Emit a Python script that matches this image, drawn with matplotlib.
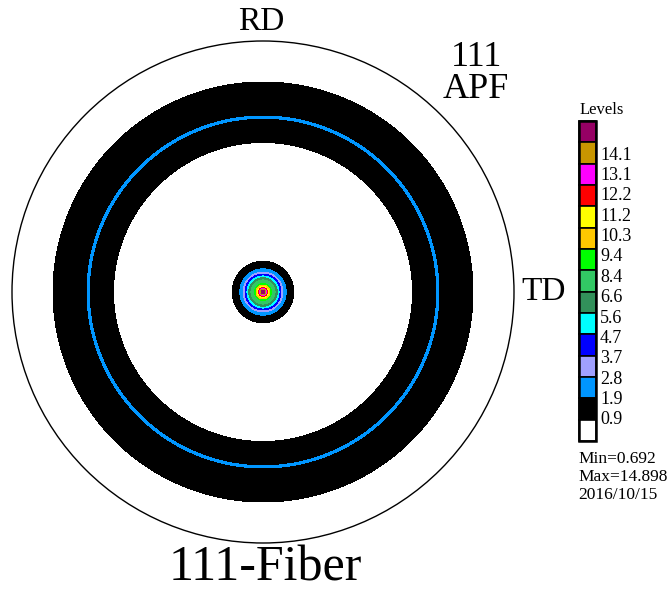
import numpy as np
import matplotlib
matplotlib.use("Agg")
import matplotlib.pyplot as plt
from matplotlib.patches import Circle, Rectangle

# radial intensity profile of the 111 pole figure (fiber texture, axially symmetric)
psi = [0, 0.5, 0.9, 1.1, 1.4, 1.8, 2.2, 2.7, 3.6, 4.7, 5.4, 6.1, 6.8, 7.5, 9.3,
       10.8, 11.5, 14.3, 50.2, 53.6, 57.4, 62.7, 68.1, 75.3, 78.9, 90]
intensity = [14.9, 14.5, 13.5, 12.7, 11.7, 10.8, 9.9, 8.9, 7.5, 6.1, 5.2, 4.2, 3.2,
             2.3, 1.4, 0.95, 0.8, 0.7, 0.75, 0.9, 1.4, 1.94, 1.4, 0.9, 0.8, 0.7]

levels = [0.9, 1.9, 2.8, 3.7, 4.7, 5.6, 6.6, 8.4, 9.4, 10.3, 11.2, 12.2, 13.1, 14.1]
level_labels = ["0.9", "1.9", "2.8", "3.7", "4.7", "5.6", "6.6", "8.4", "9.4",
                "10.3", "11.2", "12.2", "13.1", "14.1"]
colors = ["#ffffff", "#000000", "#0096ff", "#a0a0ff", "#0000ff", "#00ffff",
          "#32905a", "#32c864", "#00ff00", "#ffc800", "#ffff00", "#ff0000",
          "#ff00ff", "#c89600", "#960064"]
min_val = 0.692
max_val = 14.898

serif = "Liberation Serif"

fig = plt.figure(figsize=(6.72, 5.93), dpi=100)
ax = fig.add_axes([0, 0, 1, 1])
ax.set_xlim(0, 672)
ax.set_ylim(593, 0)
ax.axis("off")

# pole figure in pixel coordinates
cx, cy, R = 263, 292, 251
theta = np.linspace(0, 2 * np.pi, 721)
rr, tt = np.meshgrid(np.array(psi) / 90 * R, theta)
zz = np.tile(intensity, (len(theta), 1))
X = cx + rr * np.cos(tt)
Y = cy - rr * np.sin(tt)
ax.contourf(X, Y, zz, levels=[0] + levels + [100], colors=colors)
ax.add_patch(Circle((cx, cy), R, fill=False, edgecolor="black", lw=1.0))

ax.text(cx - 2, 22, "RD", fontsize=24, family=serif, ha="center", va="center")
ax.text(544, 292, "TD", fontsize=24, family=serif, ha="center", va="center")
ax.text(476, 58, "111", fontsize=26, family=serif, ha="center", va="center")
ax.text(476, 89, "APF", fontsize=26, family=serif, ha="center", va="center")
ax.text(265, 568, "111-Fiber", fontsize=36, family=serif, ha="center", va="center")

# legend boxes
x0, w = 579, 17
top, bottom = 121, 441
h = (bottom - top) / len(colors)
for i, c in enumerate(colors[::-1]):
    ax.add_patch(Rectangle((x0, top + i * h), w, h, facecolor=c,
                           edgecolor="black", lw=1.2))
ax.add_patch(Rectangle((x0, top), w, bottom - top, fill=False,
                       edgecolor="black", lw=1.8))

label_y = np.linspace(155, 420, len(levels))
for y, lab in zip(label_y, level_labels[::-1]):
    ax.text(600, y, lab, fontsize=13, family=serif, ha="left", va="center")

ax.text(580, 110, "Levels", fontsize=12, family=serif, ha="left", va="center")
ax.text(578, 459, f"Min={min_val}", fontsize=12.5, family=serif, ha="left", va="center")
ax.text(578, 477, f"Max={max_val}", fontsize=12.5, family=serif, ha="left", va="center")
ax.text(578, 495, "2016/10/15", fontsize=12.5, family=serif, ha="left", va="center")

fig.savefig("out.png", dpi=100)
